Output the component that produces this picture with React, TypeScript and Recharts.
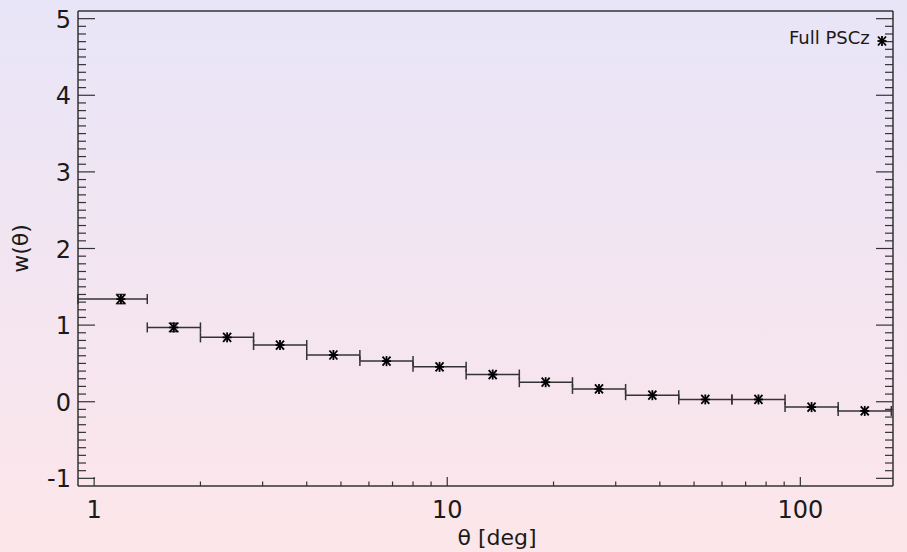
import React from 'react';
import { ComposedChart, Scatter, XAxis, YAxis, ErrorBar } from 'recharts';

// ---- data ----
const thetaCenters = [1.19, 1.68, 2.38, 3.36, 4.76, 6.73, 9.51, 13.45, 19.0, 26.9, 38.1, 53.8, 76.1, 107.6, 152.2];
const binLow = [0.9, 1.414, 2.0, 2.828, 4.0, 5.657, 8.0, 11.31, 16.0, 22.63, 32.0, 45.25, 64.0, 90.51, 128.0];
const binHigh = [1.414, 2.0, 2.828, 4.0, 5.657, 8.0, 11.31, 16.0, 22.63, 32.0, 45.25, 64.0, 90.51, 128.0, 181.0];
const wValues = [1.34, 0.97, 0.84, 0.74, 0.61, 0.53, 0.455, 0.355, 0.255, 0.167, 0.085, 0.03, 0.03, -0.07, -0.12];
const wErrors = [0.06, 0.055, 0, 0, 0, 0, 0, 0, 0, 0, 0, 0, 0, 0, 0];

const xMajorTicks = [1, 10, 100];
const xMajorLabels = ['1', '10', '100'];
const xMinorTicks = [2, 3, 4, 5, 6, 7, 8, 9, 20, 30, 40, 50, 60, 70, 80, 90];
const yMajorTicks = [-1, 0, 1, 2, 3, 4, 5];
const yMajorLabels = ['-1', '0', '1', '2', '3', '4', '5'];

const xDomain: [number, number] = [0.9, 183];
const yDomain: [number, number] = [-1.1, 5.1];

const seriesName = 'Full PSCz';
const xTitle = 'θ [deg]';
const yTitle = 'w(θ)';

// ---- derived ----
const points = thetaCenters.map((t, i) => ({
  theta: t,
  w: wValues[i],
  xErr: [t - binLow[i], binHigh[i] - t],
  yErr: wErrors[i],
}));

const xTicks = [...xMajorTicks, ...xMinorTicks].sort((a, b) => a - b);
const yTicks: number[] = [];
for (let i = 0; i < yMajorTicks.length; i++) {
  const m = yMajorTicks[i];
  yTicks.push(m);
  if (i < yMajorTicks.length - 1) {
    for (let k = 1; k < 10; k++) yTicks.push(Math.round((m + k / 10) * 1000) / 1000);
  }
}

const FONT = 'DejaVu Sans';
const AXIS = '#333';
const TXT = '#1a1a1a';

const isYMajor = (v: number) => yMajorTicks.some((m) => Math.abs(m - v) < 1e-6);
const yLabel = (v: number) => yMajorLabels[yMajorTicks.findIndex((m) => Math.abs(m - v) < 1e-6)];

const BottomTick = (p: any) => {
  const { x, y, payload } = p;
  const idx = xMajorTicks.indexOf(payload.value);
  const major = idx >= 0;
  return (
    <g>
      <line x1={x} x2={x} y1={y} y2={y - (major ? 9 : 4.5)} stroke={AXIS} strokeWidth={1.2} />
      {major && (
        <text x={x} y={y + 32} textAnchor="middle" fontFamily={FONT} fontSize={24} fill={TXT}>
          {xMajorLabels[idx]}
        </text>
      )}
    </g>
  );
};

const TopTick = (p: any) => {
  const { x, y, payload } = p;
  const major = xMajorTicks.indexOf(payload.value) >= 0;
  return <line x1={x} x2={x} y1={y} y2={y + (major ? 9 : 4.5)} stroke={AXIS} strokeWidth={1.2} />;
};

const LeftTick = (p: any) => {
  const { x, y, payload } = p;
  const major = isYMajor(payload.value);
  return (
    <g>
      <line x1={x} x2={x + (major ? 17 : 8)} y1={y} y2={y} stroke={AXIS} strokeWidth={1.2} />
      {major && (
        <text x={x - 7} y={y + 9} textAnchor="end" fontFamily={FONT} fontSize={24} fill={TXT}>
          {yLabel(payload.value)}
        </text>
      )}
    </g>
  );
};

const RightTick = (p: any) => {
  const { x, y, payload } = p;
  const major = isYMajor(payload.value);
  return <line x1={x} x2={x - (major ? 17 : 8)} y1={y} y2={y} stroke={AXIS} strokeWidth={1.2} />;
};

const Asterisk = ({ cx, cy }: any) => {
  if (cx == null || cy == null) return null;
  return (
    <g stroke="#000" strokeWidth={1.8}>
      <line x1={cx - 4.5} x2={cx + 4.5} y1={cy} y2={cy} />
      <line x1={cx} x2={cx} y1={cy - 5} y2={cy + 5} />
      <line x1={cx - 4} x2={cx + 4} y1={cy - 4.5} y2={cy + 4.5} />
      <line x1={cx - 4} x2={cx + 4} y1={cy + 4.5} y2={cy - 4.5} />
    </g>
  );
};

export default function App() {
  return (
    <div
      style={{
        position: 'absolute',
        left: 0,
        top: 0,
        width: 907,
        height: 552,
        background: 'linear-gradient(to bottom, #e8e5f8 0%, #f3e5f1 50%, #fce6e9 100%)',
        overflow: 'hidden',
      }}
    >
      <ComposedChart width={907} height={552} margin={{ top: 0, right: 0, bottom: 0, left: 0 }}>
        <XAxis
          xAxisId="b"
          dataKey="theta"
          type="number"
          scale="log"
          domain={xDomain}
          allowDataOverflow
          ticks={xTicks}
          interval={0}
          tick={<BottomTick />}
          tickLine={false}
          tickSize={0}
          tickMargin={0}
          height={66}
          axisLine={{ stroke: AXIS, strokeWidth: 1.5 }}
          label={() => (
            <text x={497} y={545} textAnchor="middle" fontFamily={FONT} fontSize={22} fill={TXT}>
              {xTitle}
            </text>
          )}
        />
        <XAxis
          xAxisId="t"
          orientation="top"
          type="number"
          scale="log"
          domain={xDomain}
          allowDataOverflow
          ticks={xTicks}
          interval={0}
          tick={<TopTick />}
          tickLine={false}
          tickSize={0}
          tickMargin={0}
          height={11}
          axisLine={{ stroke: AXIS, strokeWidth: 1.5 }}
        />
        <YAxis
          yAxisId="l"
          type="number"
          domain={yDomain}
          allowDataOverflow
          ticks={yTicks}
          interval={0}
          tick={<LeftTick />}
          tickLine={false}
          tickSize={0}
          tickMargin={0}
          width={78}
          axisLine={{ stroke: AXIS, strokeWidth: 1.5 }}
          label={() => (
            <text
              x={20.5}
              y={248.5}
              transform="rotate(-90 20.5 248.5)"
              textAnchor="middle"
              dominantBaseline="central"
              fontFamily={FONT}
              fontSize={22}
              fill={TXT}
            >
              {yTitle}
            </text>
          )}
        />
        <YAxis
          yAxisId="r"
          orientation="right"
          type="number"
          domain={yDomain}
          allowDataOverflow
          ticks={yTicks}
          interval={0}
          tick={<RightTick />}
          tickLine={false}
          tickSize={0}
          tickMargin={0}
          width={14}
          axisLine={{ stroke: AXIS, strokeWidth: 1.5 }}
        />
        <Scatter
          name={seriesName}
          data={points}
          xAxisId="b"
          yAxisId="l"
          dataKey="w"
          shape={<Asterisk />}
          isAnimationActive={false}
        >
          <ErrorBar dataKey="xErr" direction="x" width={5} stroke={AXIS} strokeWidth={1.5} isAnimationActive={false} />
          <ErrorBar dataKey="yErr" direction="y" width={5} stroke={AXIS} strokeWidth={1.5} isAnimationActive={false} />
        </Scatter>
      </ComposedChart>
      <div
        style={{
          position: 'absolute',
          left: 789,
          top: 28,
          fontFamily: FONT,
          fontSize: 18,
          lineHeight: '20px',
          color: TXT,
          whiteSpace: 'nowrap',
        }}
      >
        {seriesName}
      </div>
      <svg style={{ position: 'absolute', left: 875, top: 34 }} width={14} height={14}>
        <Asterisk cx={7} cy={7} />
      </svg>
    </div>
  );
}
